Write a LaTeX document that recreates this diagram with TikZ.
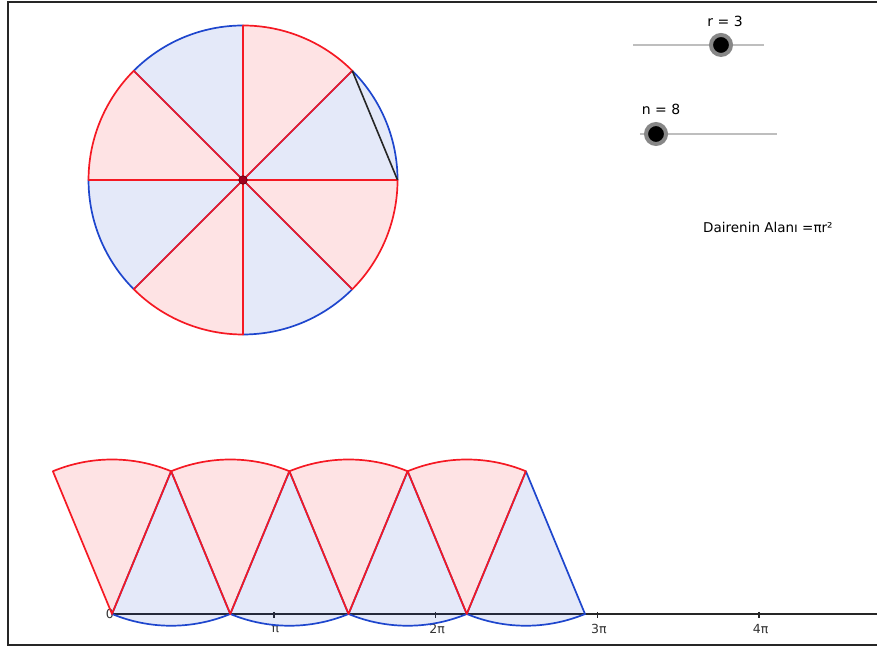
\documentclass[tikz,border=0pt]{standalone}
\usepackage{fontspec}
\setmainfont{DejaVu Sans}
\usetikzlibrary{calc}
\definecolor{sectorred}{RGB}{245,25,35}
\definecolor{sectorblue}{RGB}{30,70,205}
\definecolor{sliderline}{RGB}{190,190,190}
\definecolor{knobgray}{RGB}{135,135,135}
\definecolor{centerred}{RGB}{160,0,30}
\tikzset{
  redsector/.style={draw=sectorred, fill=sectorred, fill opacity=0.12, line width=1.7pt, line join=round},
  bluesector/.style={draw=sectorblue, fill=sectorblue, fill opacity=0.12, line width=1.7pt, line join=round},
  chordline/.style={draw=black!85, line width=1.6pt},
  axisline/.style={draw=black!85, line width=1.4pt},
  frameline/.style={draw=black!85, line width=2.5pt},
  sliderbar/.style={draw=sliderline, line width=1.5pt},
  knob/.style={circle, fill=black, draw=knobgray, line width=4pt, minimum size=20pt, inner sep=0pt},
  centerdot/.style={circle, fill=centerred, draw=centerred!70!black, line width=0.8pt, minimum size=8.5pt, inner sep=0pt},
  sliderlabel/.style={font=\fontsize{14}{16}\selectfont, inner sep=0pt},
  arealabel/.style={font=\fontsize{13.5}{16}\selectfont, inner sep=0pt, anchor=west},
  ticklabel/.style={font=\fontsize{12.5}{14}\selectfont, text=black!80, inner sep=0pt},
}

\begin{document}
\begin{tikzpicture}[x=51.5pt, y=51.5pt]
\useasboundingbox (-2.175,-0.641) rectangle (14.854,11.922);
% frame
\coordinate (ftop) at (14.854,11.883);
\coordinate (fcorner) at (-2.019,-0.602);
\coordinate (fbottom) at (14.854,-0.602);
\draw[frameline] (ftop) -| (fcorner) -- (fbottom);
% axis
\coordinate (O) at (0,0);
\coordinate (xend) at (14.854,0);
\draw[axisline] (O) -- (xend);
\node[ticklabel] (t0) at (-0.04,0) {0};
\foreach \k/\lab in {1/π, 2/2π, 3/3π, 4/4π} {
  \draw[axisline] (\k*pi,0.04) -- (\k*pi,-0.08);
  \node[ticklabel] (t\k) at (\k*pi+0.03,-0.3) {\lab};
}
% circle
\coordinate (C) at (2.544,8.427);
\foreach \a in {0,90,180,270}
  \filldraw[bluesector] (C) -- ++(\a:3) arc[start angle=\a, delta angle=45, radius=3] -- cycle;
\foreach \a in {45,135,225,315}
  \filldraw[redsector] (C) -- ++(\a:3) arc[start angle=\a, delta angle=45, radius=3] -- cycle;
\coordinate (P0) at ($(C)+(0:3)$);
\coordinate (P1) at ($(C)+(45:3)$);
\draw[chordline] (P0) -- (P1);
\node[centerdot] (center) at (C) {};
% unrolled sectors
\foreach \k in {0,...,3}
  \filldraw[bluesector] ({(\k+0.5)*2.2961},2.7716) -- ++(247.5:3) arc[start angle=247.5, end angle=292.5, radius=3] -- cycle;
\foreach \k in {0,...,3}
  \filldraw[redsector] ({\k*2.2961},0) -- ++(67.5:3) arc[start angle=67.5, end angle=112.5, radius=3] -- cycle;
% sliders
\coordinate (r0) at (10.117,11.049);
\coordinate (r1) at (12.660,11.049);
\draw[sliderbar] (r0) -- (r1);
\node[knob] (rknob) at (11.825,11.049) {};
\node[sliderlabel] (rlabel) at (11.903,11.515) {r = 3};
\coordinate (n0) at (10.252,9.320);
\coordinate (n1) at (12.913,9.320);
\draw[sliderbar] (n0) -- (n1);
\node[knob] (nknob) at (10.563,9.320) {};
\node[sliderlabel] (nlabel) at (10.660,9.806) {n = 8};
% area
\node[arealabel] (area) at (11.476,7.495) {Dairenin Alanı =πr²};
\end{tikzpicture}
\end{document}
